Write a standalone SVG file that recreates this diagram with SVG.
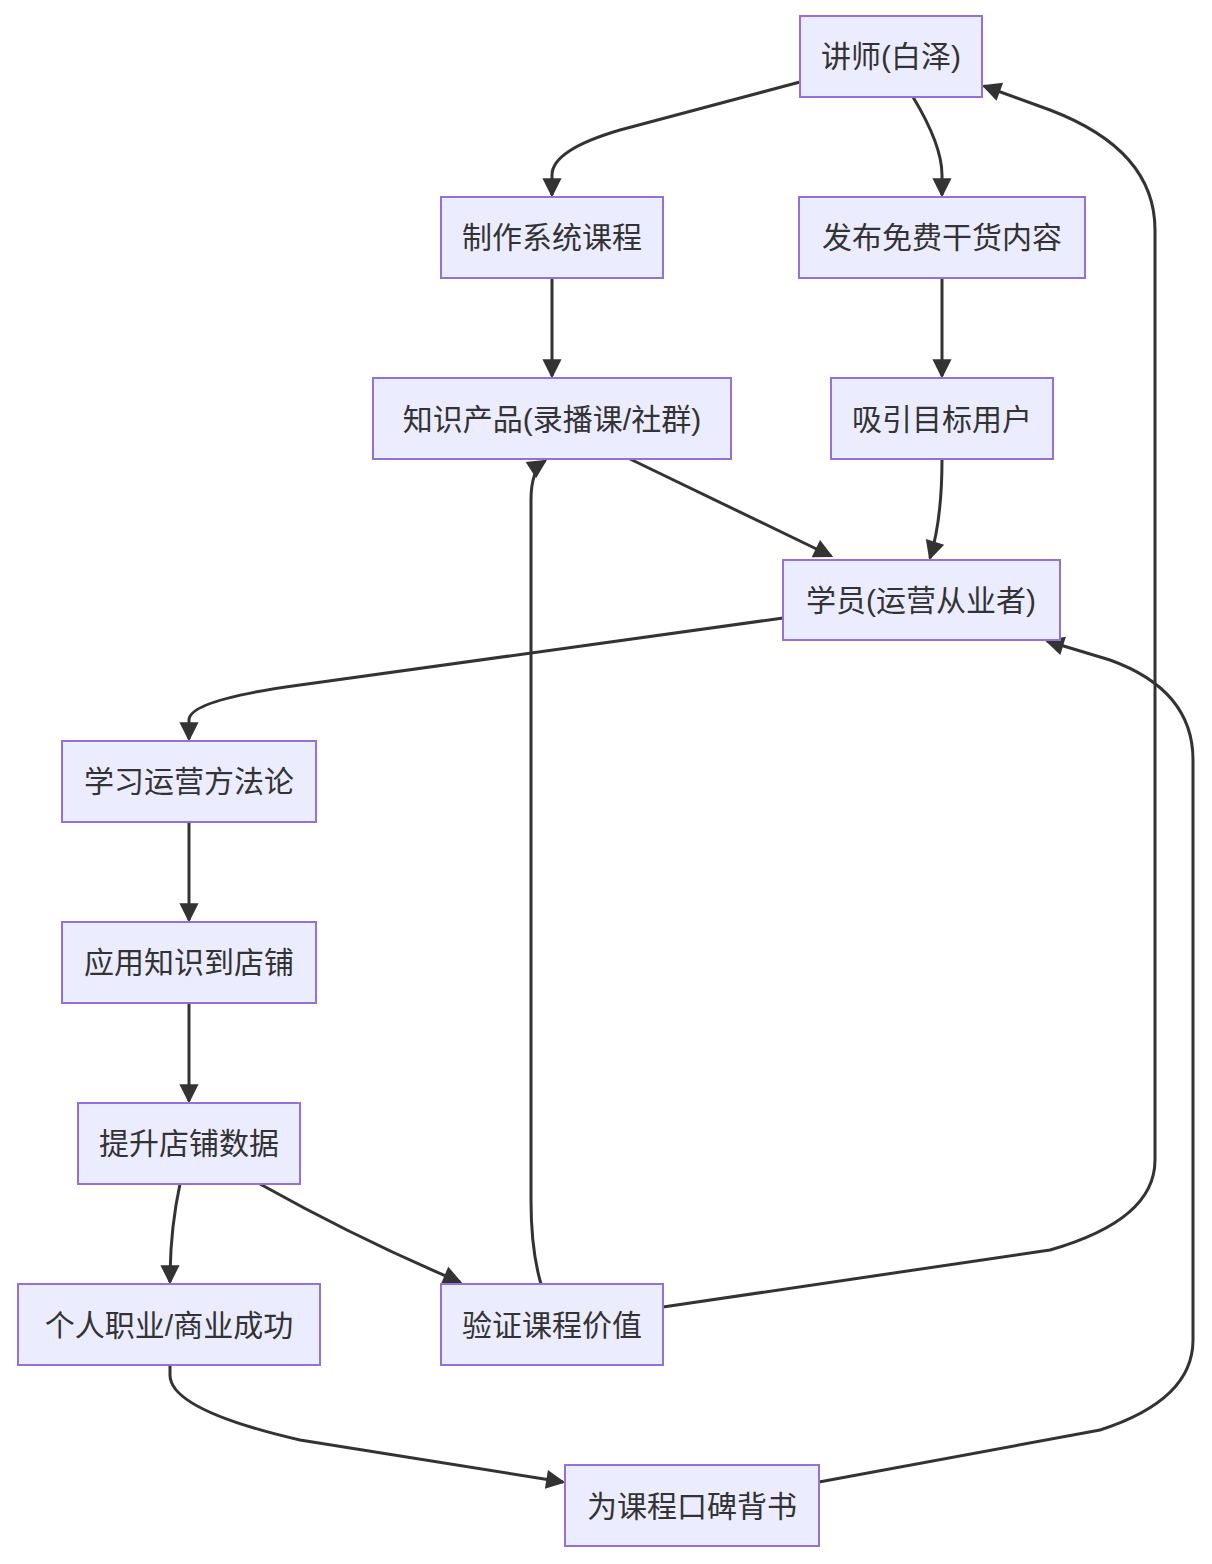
<svg xmlns="http://www.w3.org/2000/svg" width="1212" height="1564" viewBox="0 0 1212 1564">
<style>
.n rect{fill:#ECECFF;stroke:#9370DB;stroke-width:2}
.n text{font-family:"Liberation Sans","Noto Sans CJK SC",sans-serif;font-size:30px;fill:#333;text-anchor:middle;dominant-baseline:central}
.e path{fill:none;stroke:#333;stroke-width:3;marker-end:url(#a)}
</style>
<defs><marker id="a" viewBox="0 0 10 10" refX="9" refY="5" markerWidth="8" markerHeight="8" markerUnits="userSpaceOnUse" orient="auto" style="overflow:visible"><path d="M0,0 L10,5 L0,10 z" fill="#333" transform="scale(2.4) translate(-5,-2.9)"/></marker></defs>
<rect width="1212" height="1564" fill="#fff"/>
<g class="e">
<path d="M800,82 L620,130 Q552,150 552,175 L552,195"/>
<path d="M913,97 Q942,145 942,175 L942,195"/>
<path d="M552,278 L552,376"/>
<path d="M942,278 L942,376"/>
<path d="M630,459 L831,556"/>
<path d="M942,459 Q942,520 930,558"/>
<path d="M783,618 L300,685 Q189,700 189,720 L189,739"/>
<path d="M189,822 L189,920"/>
<path d="M189,1003 L189,1101"/>
<path d="M180,1184 Q170,1230 170,1282"/>
<path d="M260,1184 Q360,1240 460,1282"/>
<path d="M541,1284 Q531,1250 531,1200 L531,500 Q531,470 545,461"/>
<path d="M663,1307 L1050,1250 Q1155,1220 1155,1160 L1155,230 Q1155,150 1050,110 L984,86"/>
<path d="M170,1365 L170,1375 Q170,1410 300,1440 L563,1482"/>
<path d="M819,1482 L1100,1430 Q1193,1400 1193,1340 L1193,760 Q1193,690 1110,660 L1047,641"/>
</g>
<g id="n1" class="n"><rect x="800" y="16" width="182" height="81"/><text x="891" y="56">讲师(白泽)</text></g>
<g id="n2" class="n"><rect x="441" y="197" width="222" height="81"/><text x="552" y="237">制作系统课程</text></g>
<g id="n3" class="n"><rect x="799" y="197" width="286" height="81"/><text x="942" y="237">发布免费干货内容</text></g>
<g id="n4" class="n"><rect x="373" y="378" width="358" height="81"/><text x="552" y="419">知识产品(录播课/社群)</text></g>
<g id="n5" class="n"><rect x="831" y="378" width="222" height="81"/><text x="942" y="419">吸引目标用户</text></g>
<g id="n6" class="n"><rect x="783" y="560" width="277" height="80"/><text x="921" y="600">学员(运营从业者)</text></g>
<g id="n7" class="n"><rect x="62" y="741" width="254" height="81"/><text x="189" y="781">学习运营方法论</text></g>
<g id="n8" class="n"><rect x="62" y="922" width="254" height="81"/><text x="189" y="962">应用知识到店铺</text></g>
<g id="n9" class="n"><rect x="78" y="1103" width="222" height="81"/><text x="189" y="1143">提升店铺数据</text></g>
<g id="n10" class="n"><rect x="18" y="1284" width="302" height="81"/><text x="169" y="1325">个人职业/商业成功</text></g>
<g id="n11" class="n"><rect x="441" y="1284" width="222" height="81"/><text x="552" y="1325">验证课程价值</text></g>
<g id="n12" class="n"><rect x="565" y="1465" width="254" height="81"/><text x="692" y="1506">为课程口碑背书</text></g>
</svg>
